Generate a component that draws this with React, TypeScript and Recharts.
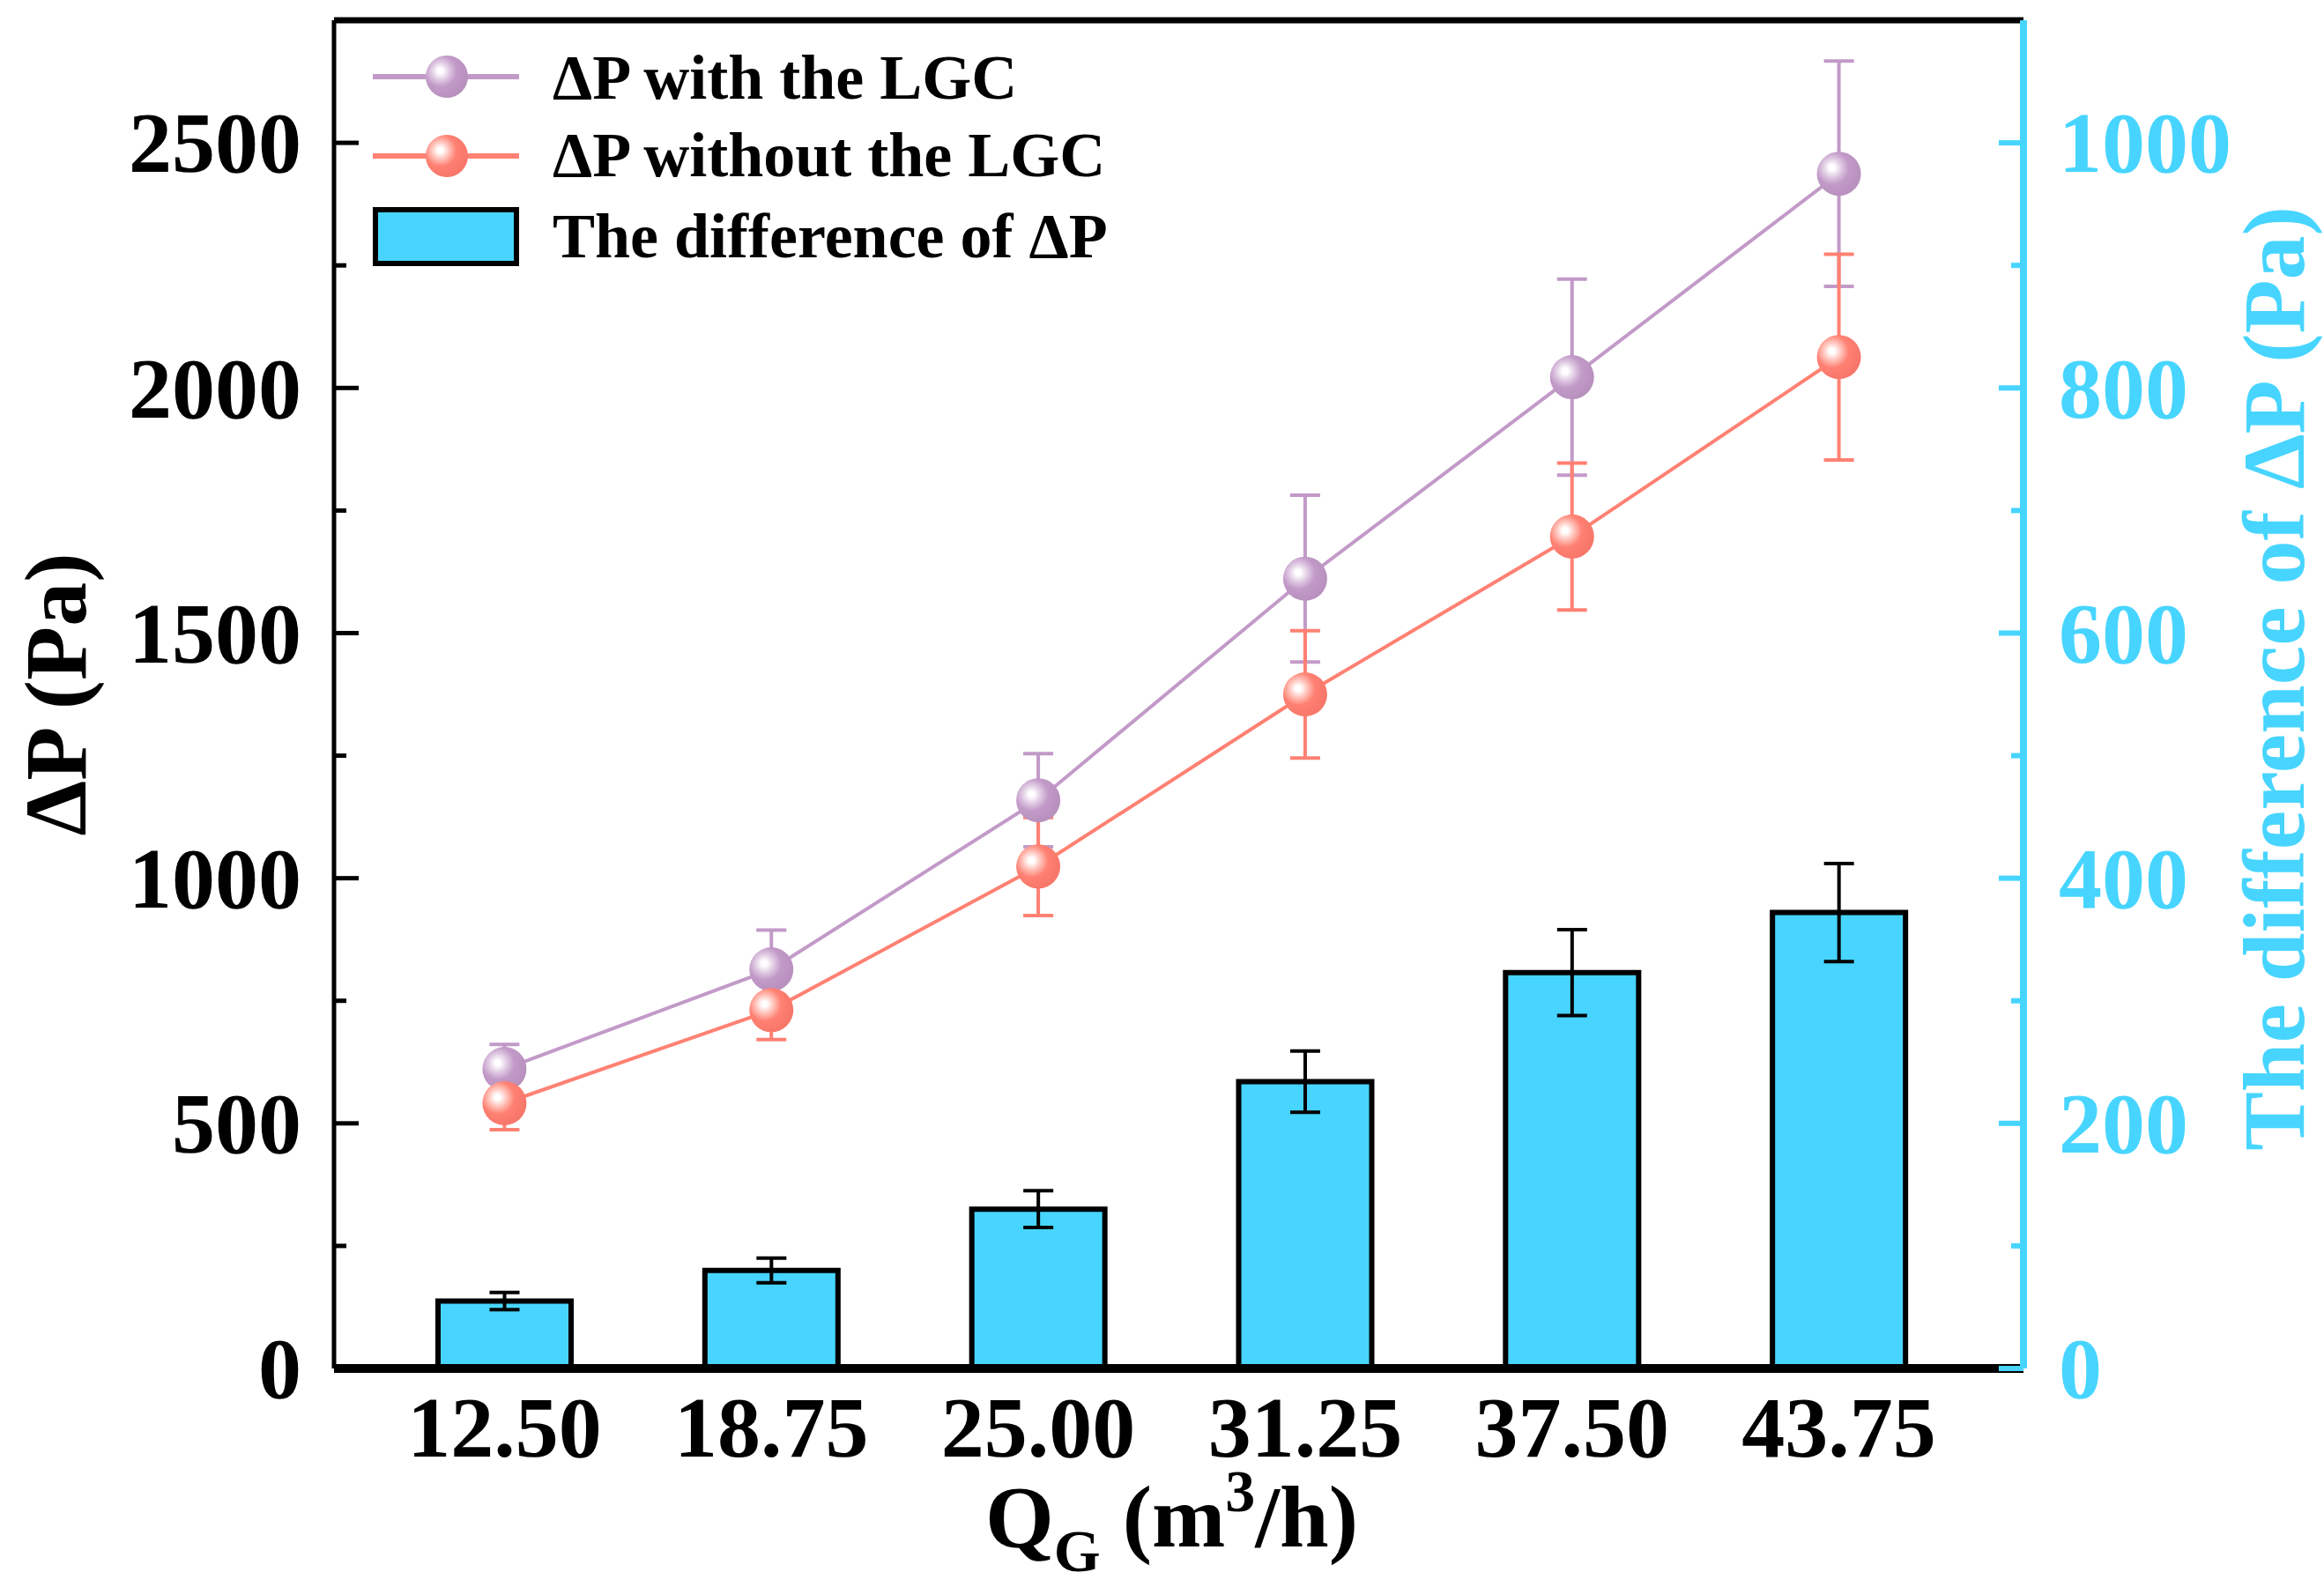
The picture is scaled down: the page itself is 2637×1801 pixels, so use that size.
import React from 'react';
import { ComposedChart, Bar, Line, XAxis, YAxis, ErrorBar, Legend, ReferenceLine } from 'recharts';

const categories = ['12.50', '18.75', '25.00', '31.25', '37.50', '43.75'];
const withLGC = [611, 814, 1159, 1611, 2022, 2437];
const withLGCErr = [50, 80, 95, 170, 200, 230];
const withoutLGC = [541, 731, 1024, 1375, 1697, 2063];
const withoutLGCErr = [54, 60, 100, 130, 150, 210];
const difference = [55, 80, 130, 234, 323, 372];
const differenceErr = [7, 10, 15, 25, 35, 40];
const leftTicks = [0, 250, 500, 750, 1000, 1250, 1500, 1750, 2000, 2250, 2500];
const rightTicks = [0, 100, 200, 300, 400, 500, 600, 700, 800, 900, 1000];
const legendNames = ['ΔP with the LGC', 'ΔP without the LGC', 'The difference of ΔP'];

const data = categories.map((q, i) => ({
  q,
  withLGC: withLGC[i],
  withLGCErr: withLGCErr[i],
  withoutLGC: withoutLGC[i],
  withoutLGCErr: withoutLGCErr[i],
  diff: difference[i],
  diffErr: differenceErr[i],
}));

const FONT = "'Liberation Serif', 'Times New Roman', serif";
const PURPLE = '#C29AC8';
const RED = '#FF8173';
const CYAN = '#47D5FF';
const TICK_MARGIN_L = 37;
const TICK_MARGIN_R = 40;

const LeftTick = (props: any) => {
  const { x, y, payload } = props;
  const axisX = x + TICK_MARGIN_L;
  const major = payload.value % 500 === 0;
  return (
    <g>
      <line x1={axisX} x2={axisX + (major ? 28 : 14)} y1={y} y2={y} stroke="#000" strokeWidth={5} />
      {major && (
        <text x={x} y={y} dy="0.34em" textAnchor="end" fontFamily={FONT} fontWeight="bold" fontSize={98} fill="#000">
          {payload.value}
        </text>
      )}
    </g>
  );
};

const RightTick = (props: any) => {
  const { x, y, payload } = props;
  const axisX = x - TICK_MARGIN_R;
  const major = payload.value % 200 === 0;
  return (
    <g>
      <line x1={axisX} x2={axisX - (major ? 28 : 14)} y1={y} y2={y} stroke={CYAN} strokeWidth={6} />
      {major && (
        <text x={x} y={y} dy="0.34em" textAnchor="start" fontFamily={FONT} fontWeight="bold" fontSize={98} fill={CYAN}>
          {payload.value}
        </text>
      )}
    </g>
  );
};

const BottomTick = (props: any) => {
  const { x, y, payload } = props;
  return (
    <text x={x} y={y + 100} textAnchor="middle" fontFamily={FONT} fontWeight="bold" fontSize={98} fill="#000">
      {payload.value}
    </text>
  );
};

const LeftLabel = (props: any) => {
  const vb = props.viewBox || { x: 0, y: 23, width: 379, height: 1530 };
  const cx = vb.x + 63;
  const cy = vb.y + vb.height / 2;
  return (
    <text
      x={cx}
      y={cy}
      transform={`rotate(-90 ${cx} ${cy})`}
      textAnchor="middle"
      dy="0.34em"
      fontFamily={FONT}
      fontWeight="bold"
      fontSize={100}
      fill="#000"
    >
      ΔP (Pa)
    </text>
  );
};

const RightLabel = (props: any) => {
  const vb = props.viewBox || { x: 2296, y: 23, width: 341, height: 1530 };
  const cx = vb.x + 284;
  const cy = vb.y + vb.height / 2 - 18;
  return (
    <text
      x={cx}
      y={cy}
      transform={`rotate(-90 ${cx} ${cy})`}
      textAnchor="middle"
      dy="0.34em"
      fontFamily={FONT}
      fontWeight="bold"
      fontSize={100}
      fill={CYAN}
    >
      The difference of ΔP (Pa)
    </text>
  );
};

const BottomLabel = (props: any) => {
  const vb = props.viewBox || { x: 379, y: 1553, width: 1917, height: 248 };
  const cx = vb.x + vb.width / 2 - 8;
  const cy = vb.y + 202;
  return (
    <text x={cx} y={cy} textAnchor="middle" fontFamily={FONT} fontWeight="bold" fontSize={100} fill="#000">
      <tspan>Q</tspan>
      <tspan dy={28} fontSize={68}>G</tspan>
      <tspan dy={-28}> (m</tspan>
      <tspan dy={-40} fontSize={68}>3</tspan>
      <tspan dy={40}>/h)</tspan>
    </text>
  );
};

const Gradients = ({ prefix }: { prefix: string }) => (
  <defs>
    <radialGradient id={`${prefix}P`} cx="0.36" cy="0.38" r="0.62" fx="0.34" fy="0.36">
      <stop offset="0" stopColor="#FFFFFF" />
      <stop offset="0.1" stopColor="#FFFFFF" />
      <stop offset="0.32" stopColor="#E2CEE5" />
      <stop offset="0.6" stopColor={PURPLE} />
      <stop offset="1" stopColor="#B891BE" />
    </radialGradient>
    <radialGradient id={`${prefix}R`} cx="0.36" cy="0.38" r="0.62" fx="0.34" fy="0.36">
      <stop offset="0" stopColor="#FFFFFF" />
      <stop offset="0.1" stopColor="#FFFFFF" />
      <stop offset="0.32" stopColor="#FFC6BE" />
      <stop offset="0.6" stopColor={RED} />
      <stop offset="1" stopColor="#F7776A" />
    </radialGradient>
  </defs>
);

const makeDot = (fillId: string) => (p: any) => {
  const { cx, cy, index } = p;
  if (cx == null || cy == null) return <g key={`d-${fillId}-${index}`} />;
  return <circle key={`d-${fillId}-${index}`} cx={cx} cy={cy} r={25} fill={`url(#${fillId})`} />;
};

const LegendContent = () => {
  const rows = [47, 137];
  return (
    <svg width={900} height={300} style={{ display: 'block' }}>
      <Gradients prefix="lg" />
      <line x1={23} x2={189} y1={rows[0]} y2={rows[0]} stroke={PURPLE} strokeWidth={6} />
      <circle cx={107} cy={rows[0]} r={24} fill="url(#lgP)" />
      <line x1={23} x2={189} y1={rows[1]} y2={rows[1]} stroke={RED} strokeWidth={6} />
      <circle cx={107} cy={rows[1]} r={24} fill="url(#lgR)" />
      <rect x={26} y={198} width={160} height={61} fill={CYAN} stroke="#000" strokeWidth={6} />
      {legendNames.map((n, i) => (
        <text key={n} x={227} y={[72, 160, 252][i]} fontFamily={FONT} fontWeight="bold" fontSize={72} fill="#000">
          {n}
        </text>
      ))}
    </svg>
  );
};

export default function App() {
  return (
    <div style={{ position: 'absolute', left: 0, top: 0, background: '#fff' }}>
      <ComposedChart width={2637} height={1801} data={data} margin={{ top: 23, right: 0, bottom: 0, left: 0 }}>
        <Gradients prefix="pt" />
        <XAxis
          dataKey="q"
          type="category"
          interval={0}
          padding={{ left: 42, right: 58 }}
          axisLine={{ stroke: '#000', strokeWidth: 10 }}
          tickLine={false}
          tickSize={0}
          tickMargin={0}
          tick={<BottomTick />}
          height={248}
          label={<BottomLabel />}
        />
        <YAxis
          yAxisId="left"
          orientation="left"
          domain={[0, 2750]}
          ticks={leftTicks}
          interval={0}
          width={379}
          axisLine={{ stroke: '#000', strokeWidth: 5 }}
          tickLine={false}
          tickSize={0}
          tickMargin={TICK_MARGIN_L}
          tick={<LeftTick />}
          label={<LeftLabel />}
          allowDataOverflow
        />
        <YAxis
          yAxisId="right"
          orientation="right"
          domain={[0, 1100]}
          ticks={rightTicks}
          interval={0}
          width={341}
          axisLine={{ stroke: CYAN, strokeWidth: 8 }}
          tickLine={false}
          tickSize={0}
          tickMargin={TICK_MARGIN_R}
          tick={<RightTick />}
          label={<RightLabel />}
          allowDataOverflow
        />
        <ReferenceLine yAxisId="left" y={2750} stroke="#000" strokeWidth={7} ifOverflow="extendDomain" />
        <Bar
          yAxisId="right"
          dataKey="diff"
          fill={CYAN}
          stroke="#000"
          strokeWidth={6}
          barSize={151}
          isAnimationActive={false}
        >
          <ErrorBar dataKey="diffErr" width={17} strokeWidth={4} stroke="#000" direction="y" />
        </Bar>
        <Line
          yAxisId="left"
          dataKey="withLGC"
          stroke={PURPLE}
          strokeWidth={4}
          dot={makeDot('ptP')}
          activeDot={false}
          isAnimationActive={false}
        >
          <ErrorBar dataKey="withLGCErr" width={17} strokeWidth={4} stroke={PURPLE} direction="y" />
        </Line>
        <Line
          yAxisId="left"
          dataKey="withoutLGC"
          stroke={RED}
          strokeWidth={4}
          dot={makeDot('ptR')}
          activeDot={false}
          isAnimationActive={false}
        >
          <ErrorBar dataKey="withoutLGCErr" width={17} strokeWidth={4} stroke={RED} direction="y" />
        </Line>
        <Legend
          layout="vertical"
          align="center"
          verticalAlign="middle"
          wrapperStyle={{ left: 400, top: 40, width: 900, height: 300 }}
          content={<LegendContent />}
        />
      </ComposedChart>
    </div>
  );
}
